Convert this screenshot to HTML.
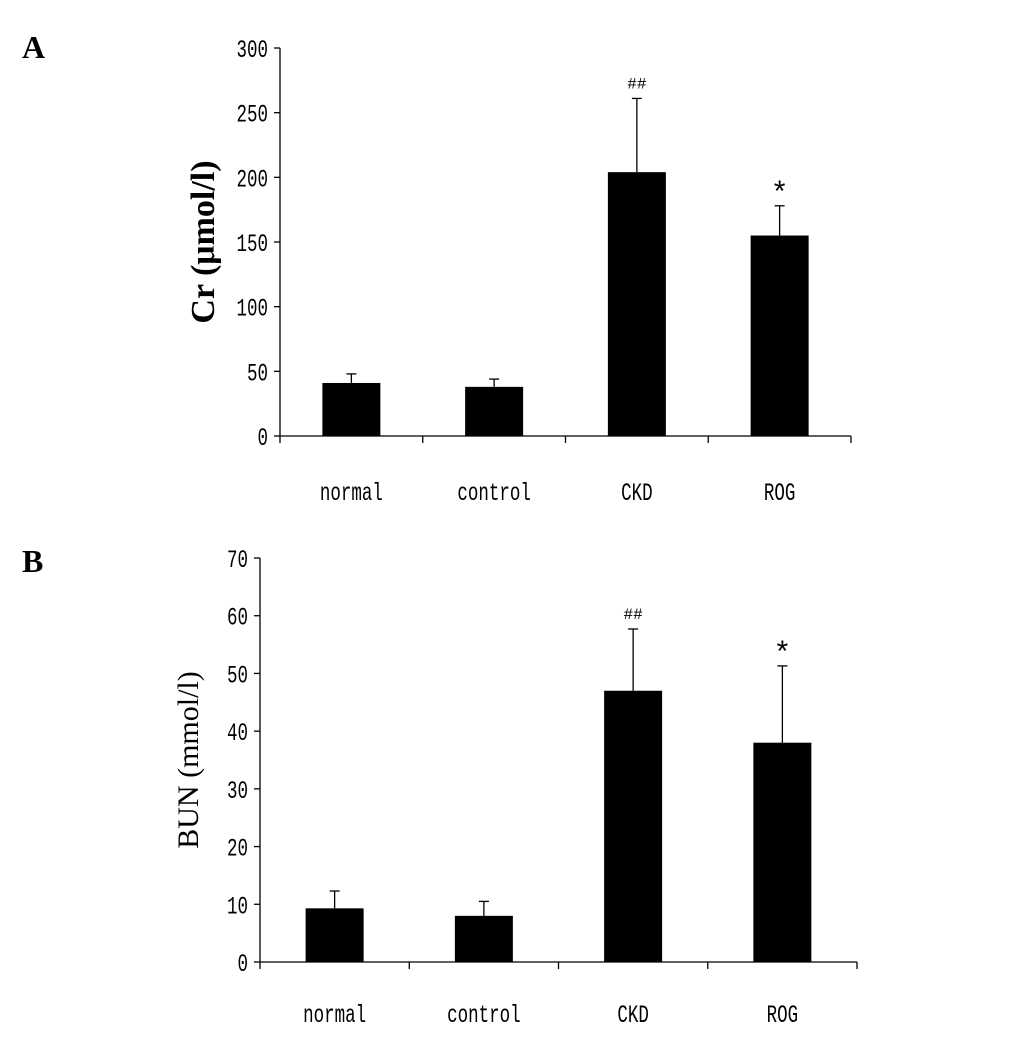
<!DOCTYPE html>
<html><head><meta charset="utf-8"><style>
html,body{margin:0;padding:0;background:#fff;}
svg text{font-family:"Liberation Mono","DejaVu Sans Mono",monospace;fill:#000;}
</style></head><body>
<svg id="s" width="1033" height="1032" viewBox="0 0 1033 1032" xmlns="http://www.w3.org/2000/svg">
<text x="22" y="58" style="font-family:'Liberation Serif',serif;font-weight:bold" font-size="32">A</text>
<text x="22" y="572" style="font-family:'Liberation Serif',serif;font-weight:bold" font-size="32">B</text>
</svg>
<script>
const categories=["normal","control","CKD","ROG"];
const crValues=[41,38,204,155];
const crErrors=[7,6,57,23];
const crTicks=[0,50,100,150,200,250,300];
const crMarks=["","","##","*"];
const bunValues=[9.3,8,47,38];
const bunErrors=[3,2.5,10.7,13.3];
const bunTicks=[0,10,20,30,40,50,60,70];
const bunMarks=["","","##","*"];
const svg=document.getElementById('s');
const NS='http://www.w3.org/2000/svg';
function mk(tag,attrs,parent){const e=document.createElementNS(NS,tag);for(const k in attrs)e.setAttribute(k,attrs[k]);(parent||svg).appendChild(e);return e;}
function panel(cfg,vals,errs,ticks,marks,name){
  const g=mk('g',{});
  
  
  const max=ticks[ticks.length-1];
  const y=v=>cfg.y0-(v/max)*(cfg.y0-cfg.yTop);
  const bw=(cfg.x1-cfg.x0)/categories.length;
  const xc=i=>cfg.x0+bw*(i+0.5);
  const ax=mk('line',{x1:cfg.x0,y1:cfg.yTop,x2:cfg.x0,y2:cfg.y0,stroke:'#000','stroke-width':1.3},g);
  
  
  const xa=mk('line',{x1:cfg.x0,y1:cfg.y0,x2:cfg.x1,y2:cfg.y0,stroke:'#000','stroke-width':1.3},g);
  
  
  ticks.forEach(t=>{
    mk('line',{x1:cfg.x0-6,y1:y(t),x2:cfg.x0,y2:y(t),stroke:'#000','stroke-width':1.3},g);
    const tx=mk('text',{x:cfg.x0-12,y:y(t)+9,'text-anchor':'end','font-size':25,transform:`translate(${(cfg.x0-12)*0.3},0) scale(0.7,1)`},g);
    tx.textContent=t;
    
    
  });
  for(let i=0;i<=categories.length;i++){
    const xx=cfg.x0+bw*i;
    mk('line',{x1:xx,y1:cfg.y0,x2:xx,y2:cfg.y0+7,stroke:'#000','stroke-width':1.3},g);
  }
  categories.forEach((c,i)=>{
    const cx=xc(i);
    const top=y(vals[i]);
    const eTop=y(vals[i]+errs[i]);
    const el=mk('line',{x1:cx,y1:eTop,x2:cx,y2:top,stroke:'#000','stroke-width':1.3},g);
    
    
    mk('line',{x1:cx-5,y1:eTop,x2:cx+5,y2:eTop,stroke:'#000','stroke-width':1.3},g);
    const r=mk('rect',{x:cx-29,y:top,width:58,height:cfg.y0-top,fill:'#000'},g);
    
    
    if(marks[i]){
      const m=mk('text',{x:cx,y:eTop-(marks[i]==='*'?4:10),'text-anchor':'middle','font-size':marks[i]==='*'?30:16},g);
      m.textContent=marks[i];
      
      
    }
    const lb=mk('text',{x:cx,y:cfg.labelY,'text-anchor':'middle','font-size':25,transform:`translate(${cx*0.3},0) scale(0.7,1)`},g);
    lb.textContent=c;
    
    
  });
  const yt=mk('text',{x:0,y:0,'text-anchor':'middle','font-size':cfg.titleSize,transform:`translate(${cfg.titleX},${(cfg.y0+cfg.yTop)/2}) rotate(-90)`},g);
  yt.setAttribute('style',"font-family:'Liberation Serif',serif;"+(cfg.bold?'font-weight:bold':''));
  yt.textContent=cfg.title;
  
  
}
panel({x0:280,x1:851,y0:436,yTop:48,labelY:500,titleX:214,titleSize:34,title:'Cr (μmol/l)',bold:true},crValues,crErrors,crTicks,crMarks,'cr-chart');
panel({x0:260,x1:857,y0:962,yTop:558,labelY:1022,titleX:198,titleSize:30,title:'BUN (mmol/l)',bold:false},bunValues,bunErrors,bunTicks,bunMarks,'bun-chart');
</script>
</body></html>
